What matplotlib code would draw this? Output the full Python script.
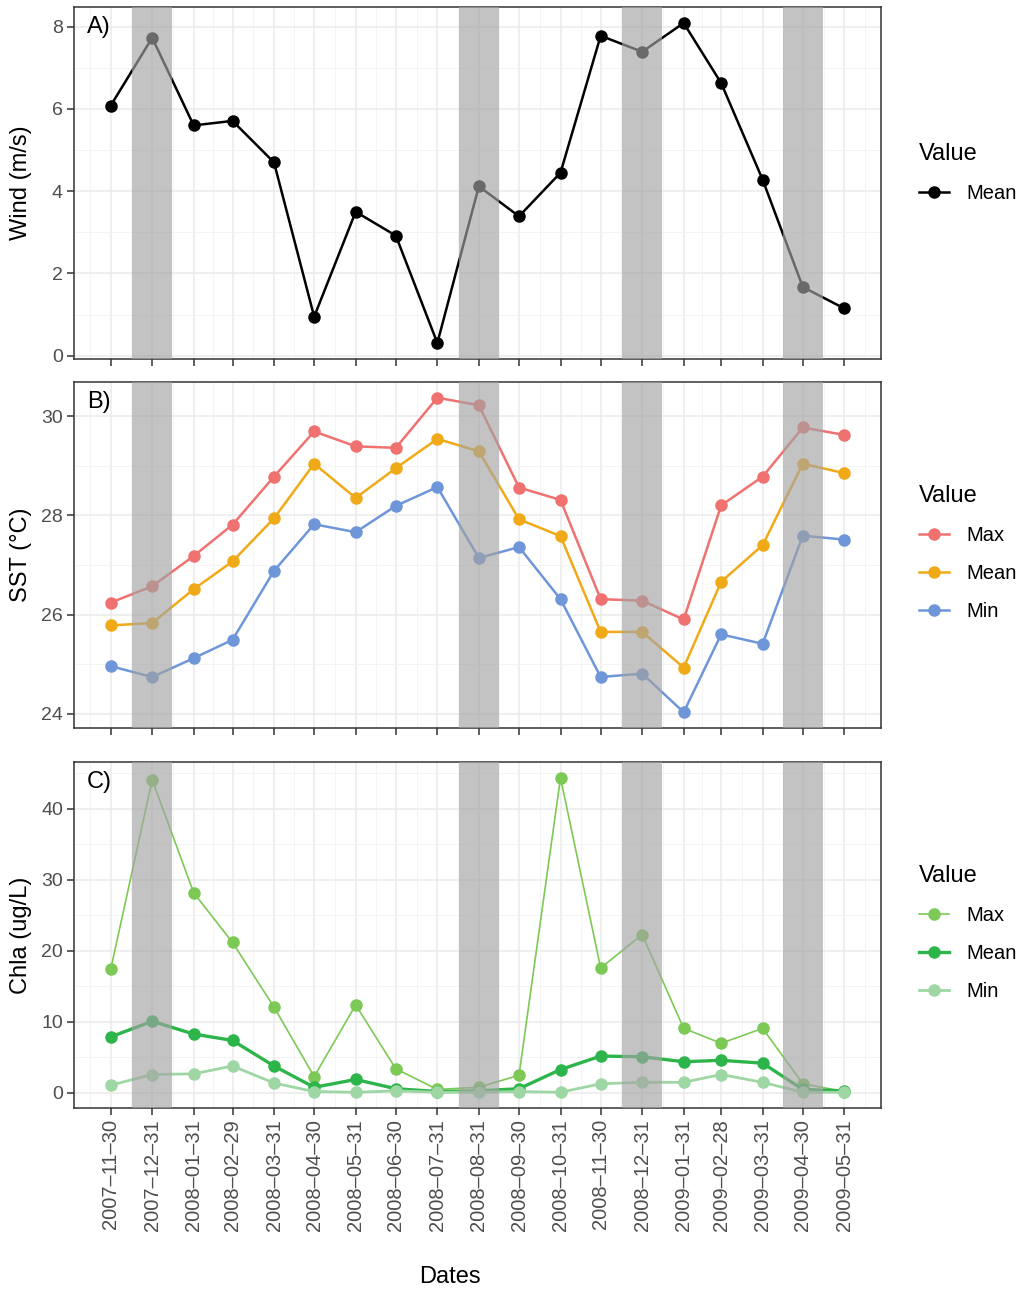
import numpy as np
import matplotlib
matplotlib.use('Agg')
import matplotlib.pyplot as plt
import matplotlib.dates as mdates

plt.rcParams['font.family'] = ['Liberation Sans', 'DejaVu Sans']

# ---- data ----
dates = np.array(['2007-11-30', '2007-12-31', '2008-01-31', '2008-02-29', '2008-03-31',
                  '2008-04-30', '2008-05-31', '2008-06-30', '2008-07-31', '2008-08-31',
                  '2008-09-30', '2008-10-31', '2008-11-30', '2008-12-31', '2009-01-31',
                  '2009-02-28', '2009-03-31', '2009-04-30', '2009-05-31'], dtype='datetime64[D]')
date_labels = [str(d).replace('-', '\u2013') for d in dates]

# shaded months
shaded = np.array(['2007-12-31', '2008-08-31', '2008-12-31', '2009-04-30'], dtype='datetime64[D]')

wind_mean = [6.08, 7.73, 5.60, 5.71, 4.70, 0.95, 3.50, 2.92, 0.31, 4.12,
             3.39, 4.45, 7.78, 7.39, 8.09, 6.63, 4.28, 1.67, 1.15]

sst_max = [26.24, 26.57, 27.18, 27.81, 28.78, 29.69, 29.39, 29.36, 30.37, 30.22,
           28.56, 28.31, 26.31, 26.28, 25.90, 28.20, 28.78, 29.77, 29.62]
sst_mean = [25.78, 25.83, 26.51, 27.07, 27.94, 29.04, 28.35, 28.95, 29.54, 29.29,
            27.92, 27.58, 25.65, 25.65, 24.93, 26.66, 27.40, 29.04, 28.85]
sst_min = [24.96, 24.74, 25.12, 25.49, 26.88, 27.82, 27.66, 28.19, 28.57, 27.14,
           27.36, 26.31, 24.74, 24.81, 24.03, 25.60, 25.41, 27.59, 27.51]

chla_max = [17.4, 44.1, 28.2, 21.2, 12.1, 2.3, 12.4, 3.4, 0.5, 0.8,
            2.5, 44.4, 17.6, 22.3, 9.1, 7.0, 9.1, 1.3, 0.2]
chla_mean = [7.9, 10.1, 8.3, 7.4, 3.8, 0.8, 1.9, 0.6, 0.2, 0.3,
             0.6, 3.3, 5.2, 5.1, 4.4, 4.6, 4.2, 0.5, 0.3]
chla_min = [1.1, 2.6, 2.7, 3.8, 1.4, 0.2, 0.1, 0.3, 0.1, 0.1,
            0.2, 0.1, 1.3, 1.5, 1.5, 2.6, 1.5, 0.1, 0.1]

# ---- layout ----
W, H = 1026, 1289
fig = plt.figure(figsize=(W / 100, H / 100), dpi=100)

def ax_at(left, top, right, bottom):
    return fig.add_axes([left / W, 1 - bottom / H, (right - left) / W, (bottom - top) / H])

x = mdates.date2num(dates)
xs = mdates.date2num(shaded)
span = x[-1] - x[0]
mids = (x[:-1] + x[1:]) / 2
minor_x = np.concatenate([[x[0] - (x[1] - x[0]) / 2], mids, [x[-1] + (x[-1] - x[-2]) / 2]])

def style(ax, ys, yticks, yminor, ylabel, tag):
    allv = np.concatenate([np.asarray(v) for v in ys])
    lo, hi = allv.min(), allv.max()
    pad = (hi - lo) * 0.05
    ax.set_ylim(lo - pad, hi + pad)
    ax.set_xlim(x[0] - span * 0.05, x[-1] + span * 0.05)
    ax.set_xticks(x)
    ax.set_xticks(minor_x, minor=True)
    ax.set_yticks(yticks)
    ax.set_yticks(yminor, minor=True)
    ax.grid(which='major', color='#ebebeb', linewidth=1.1, zorder=0)
    ax.grid(which='minor', color='#f2f2f2', linewidth=0.6, zorder=0)
    ax.set_axisbelow(True)
    ax.tick_params(which='major', length=5, width=1.1, color='#333333',
                   labelsize=14, labelcolor='#4d4d4d', pad=3)
    ax.tick_params(axis='x', labelsize=14.5)
    ax.tick_params(which='minor', length=0)
    for s in ax.spines.values():
        s.set_color('#333333')
        s.set_linewidth(1.1)
    ax.set_ylabel(ylabel, fontsize=17)
    # all y titles line up, like the aligned ggplot panels
    ax.yaxis.set_label_coords(-42 / 807, 0.5)
    ax.text(0.016, 0.975, tag, transform=ax.transAxes, ha='left', va='top', fontsize=17)
    for d in xs:
        ax.axvspan(d - 15, d + 15, color='#a3a3a3', alpha=0.65, lw=0, zorder=5)

def legend(ax, yc):
    lg = ax.legend(loc='center left', bbox_to_anchor=(919 / W, 1 - yc / H),
                   bbox_transform=fig.transFigure, frameon=False, title='Value',
                   fontsize=14.5, title_fontsize=17, handlelength=1.5,
                   labelspacing=0.95, handletextpad=0.85, borderpad=0,
                   borderaxespad=0, alignment='left')
    return lg

mk = dict(marker='o', markersize=8, zorder=3)

# A) wind
axA = ax_at(74, 7, 881, 359)
axA.plot(x, wind_mean, color='black', lw=1.8, label='Mean', **mk)
style(axA, [wind_mean], [0, 2, 4, 6, 8], [1, 3, 5, 7], 'Wind (m/s)', 'A)')
axA.set_xticklabels([])
legend(axA, 173)

# B) SST
axB = ax_at(74, 382, 881, 728)
axB.plot(x, sst_max, color='#f07270', lw=1.8, label='Max', **mk)
axB.plot(x, sst_mean, color='#f0aa18', lw=1.8, label='Mean', **mk)
axB.plot(x, sst_min, color='#6e96d8', lw=1.8, label='Min', **mk)
style(axB, [sst_max, sst_mean, sst_min], [24, 26, 28, 30], [25, 27, 29],
      'SST (\u00b0C)', 'B)')
axB.set_xticklabels([])
legend(axB, 553)

# C) Chla
axC = ax_at(74, 762, 881, 1108)
axC.plot(x, chla_max, color='#7cc956', lw=1.2, label='Max', **mk)
axC.plot(x, chla_mean, color='#2db54c', lw=2.4, label='Mean', **mk)
axC.plot(x, chla_min, color='#9ed7a3', lw=2.0, label='Min', **mk)
style(axC, [chla_max, chla_mean, chla_min], [0, 10, 20, 30, 40], [5, 15, 25, 35, 45],
      'Chla (ug/L)', 'C)')
axC.set_xticklabels(date_labels, rotation=90)
legend(axC, 933)

fig.text(450 / W, 1 - 1277 / H, 'Dates', ha='center', va='center', fontsize=17)

fig.savefig('out.png', dpi=100)
